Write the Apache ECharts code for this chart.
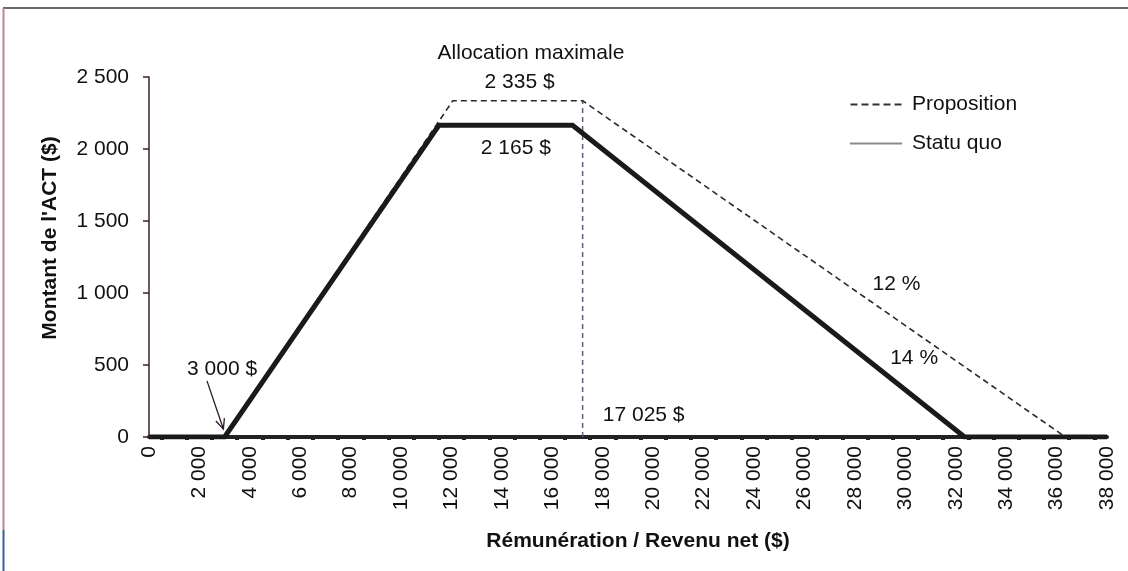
<!DOCTYPE html>
<html>
<head>
<meta charset="utf-8">
<script src="https://cdn.jsdelivr.net/npm/echarts@6/dist/echarts.min.js"></script>
<style>
html,body{margin:0;padding:0;background:#fff;}
#chart{width:1128px;height:571px;}
</style>
</head>
<body>
<div id="chart"></div>
<script>
// ---- data ----
const statuQuoX = [0, 3000, 11500, 16800, 32350, 38000];
const statuQuoY = [0, 0, 2165, 2165, 0, 0];
const propositionX = [0, 3000, 12050, 17200, 36350, 38000];
const propositionY = [0, 0, 2335, 2335, 0, 0];
const seuilX = [17200, 17200];
const seuilY = [0, 2335];
const xTickLabels = [0, 2000, 4000, 6000, 8000, 10000, 12000, 14000, 16000, 18000, 20000, 22000, 24000, 26000, 28000, 30000, 32000, 34000, 36000, 38000];
const xMinorTicks = [500,1500,2500,3500,4500,5500,6500,7500,8500,9500,10500,11500,12500,13500,14500,15500,16500,17500,18500,19500,20500,21500,22500,23500,24500,25500,26500,27500,28500,29500,30500,31500,32500,33500,34500,35500,36500,37500];
const yTickLabels = [0, 500, 1000, 1500, 2000, 2500];
const seriesNames = ['Proposition', 'Statu quo'];
// annotation texts anchored in data coordinates
const annoTexts = ['Allocation maximale', '2 335 $', '2 165 $', '3 000 $', '17 025 $', '12 %', '14 %'];
const annoX = [15150, 14700, 14550, 2900, 18000, 28700, 29400];
const annoY = [2667, 2465, 2007, 472, 153, 1062, 549];
const annoAlign = ['center', 'center', 'center', 'center', 'left', 'left', 'left'];
const arrowTail = [2300, 390];
const arrowTip = [2950, 55];

const fmt = v => String(v).replace(/\B(?=(\d{3})+(?!\d))/g, ' ');
const FONT = '"Liberation Sans", Arial, sans-serif';
const DASH_ICON = 'path://M0,0h7v2h-7z M11,0h7v2h-7z M22,0h7v2h-7z M33,0h7v2h-7z M44,0h7v2h-7z';

const chart = echarts.init(document.getElementById('chart'), null, {renderer: 'canvas'});
chart.setOption({
  animation: false,
  backgroundColor: '#fff',
  grid: {left: 149, right: 21, top: 77, bottom: 134, containLabel: false},
  legend: {
    orient: 'vertical',
    left: 845,
    top: 89,
    itemWidth: 52,
    itemHeight: 2,
    itemGap: 18,
    textStyle: {fontFamily: FONT, fontSize: 21, color: '#111', padding: [0,0,0,5]},
    data: [
      {name: seriesNames[0], icon: DASH_ICON, itemStyle: {color: '#333', borderWidth: 0}},
      {name: seriesNames[1], icon: 'rect', itemStyle: {color: '#8a8a8a', borderWidth: 0}}
    ]
  },
  xAxis: {
    type: 'value',
    min: 0, max: 38000, interval: 2000,
    name: 'Rémunération / Revenu net ($)',
    nameLocation: 'middle',
    nameGap: 94,
    nameTextStyle: {fontFamily: FONT, fontSize: 21, fontWeight: 'bold', color: '#111', padding: [0,0,0,20]},
    axisLine: {show: true, lineStyle: {color: '#222', width: 4}},
    axisTick: {show: true, customValues: xMinorTicks, length: 3, lineStyle: {color: '#222', width: 4}},
    axisLabel: {
      customValues: xTickLabels,
      rotate: 90, margin: 9,
      fontFamily: FONT, fontSize: 21, color: '#111',
      formatter: v => fmt(v)
    },
    splitLine: {show: false}
  },
  yAxis: {
    type: 'value',
    min: 0, max: 2500, interval: 500,
    name: "Montant de l'ACT ($)",
    nameLocation: 'middle',
    nameGap: 88,
    nameTextStyle: {fontFamily: FONT, fontSize: 21, fontWeight: 'bold', color: '#111', padding: [0,0,0,38]},
    axisLine: {show: true, lineStyle: {color: '#3a2030', width: 1.5}},
    axisTick: {show: true, inside: false, length: 6, lineStyle: {color: '#3a2030', width: 1.5}},
    axisLabel: {fontFamily: FONT, fontSize: 21, color: '#111', margin: 20, formatter: v => fmt(v)},
    splitLine: {show: false}
  },
  series: [
    {
      name: seriesNames[0], type: 'line', symbol: 'none', z: 3,
      data: propositionX.map((x, i) => [x, propositionY[i]]),
      itemStyle: {color: '#333'},
      lineStyle: {color: '#2a2a2a', width: 1.6, type: [6, 4]}
    },
    {
      name: seriesNames[1], type: 'line', symbol: 'none', z: 4,
      data: statuQuoX.map((x, i) => [x, statuQuoY[i]]),
      itemStyle: {color: '#8a8a8a'},
      lineStyle: {color: '#1a1a1a', width: 5, join: 'miter'}
    },
    {
      name: 'seuil', type: 'line', symbol: 'none', z: 2,
      data: seuilX.map((x, i) => [x, seuilY[i]]),
      lineStyle: {color: '#5a5a82', width: 1.5, type: [5, 4]}
    }
  ]
});

// annotations, anchored through the chart's own scale
const px = p => chart.convertToPixel({gridIndex: 0}, p);
const graphics = [];
annoTexts.forEach((t, i) => {
  const p = px([annoX[i], annoY[i]]);
  graphics.push({
    type: 'text', x: p[0], y: p[1], z: 20,
    style: {text: t, fontFamily: FONT, fontSize: 21, fill: '#111', align: annoAlign[i], verticalAlign: 'middle'}
  });
});
const a = px(arrowTail), b = px(arrowTip);
const ang = Math.atan2(b[1] - a[1], b[0] - a[0]);
const hl = 11, spread = 0.42;
graphics.push({type: 'line', z: 20, shape: {x1: a[0], y1: a[1], x2: b[0], y2: b[1]}, style: {stroke: '#2a1a2a', lineWidth: 1.3}});
graphics.push({type: 'polyline', z: 20, shape: {points: [
  [b[0] - hl * Math.cos(ang - spread), b[1] - hl * Math.sin(ang - spread)],
  b,
  [b[0] - hl * Math.cos(ang + spread), b[1] - hl * Math.sin(ang + spread)]
]}, style: {stroke: '#2a1a2a', lineWidth: 1.3, fill: null}});
// frame of the original figure
graphics.push({type: 'line', z: 20, shape: {x1: 3, y1: 8, x2: 1128, y2: 8}, style: {stroke: '#6a6a6a', lineWidth: 2}});
graphics.push({type: 'line', z: 20, shape: {x1: 3.5, y1: 8, x2: 3.5, y2: 530}, style: {stroke: '#b88898', lineWidth: 2}});
graphics.push({type: 'line', z: 20, shape: {x1: 3.5, y1: 530, x2: 3.5, y2: 571}, style: {stroke: '#3a5a9a', lineWidth: 2}});
chart.setOption({graphic: graphics});
</script>
</body>
</html>
